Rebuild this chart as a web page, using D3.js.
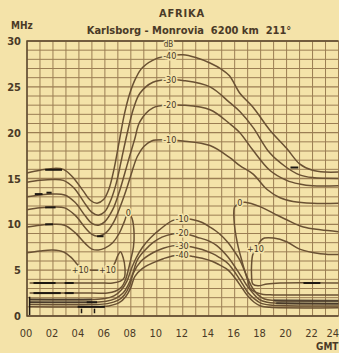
<!DOCTYPE html>
<html>
<head>
<meta charset="utf-8">
<script src="https://cdn.jsdelivr.net/npm/d3@7"></script>
<style>
  html, body { margin: 0; padding: 0; background: #f4e3a9; }
  svg { display: block; }
  text { font-family: "Liberation Sans Narrow", "DejaVu Sans Condensed", "DejaVu Sans", sans-serif; fill: #4a3a27; }
</style>
</head>
<body>
<svg id="chart" width="339" height="353"></svg>
<script>
// ---- tick labels -------------------------------------------------------
const hourTicks  = [0, 2, 4, 6, 8, 10, 12, 14, 16, 18, 20, 22, 24];
const hourLabels = ["00", "02", "04", "06", "08", "10", "12", "14", "16", "18", "20", "22", "24"];
const mhzTicks   = [0, 5, 10, 15, 20, 25, 30];

// ---- field-strength contours, [GMT hour, MHz] --------------------------
// upper contours (towards the MUF)
const upperM40 = [[0,15.6],[1,15.9],[2,16.1],[2.8,16.0],[3.5,15.2],[4.3,13.7],[4.9,12.6],[5.4,12.3],[5.9,12.7],[6.3,13.8],[6.7,16.0],[7.1,19.0],[7.5,22.0],[7.9,24.2],[8.4,26.0],[8.9,27.1],[10,28.1],[11,28.4],[12,28.5],[13,28.2],[14.1,27.6],[15,26.9],[15.6,26.2],[16.4,24.3],[17.4,22.8],[18.7,20.3],[20,18.3],[21,16.6],[22,15.9],[23,15.7],[24,15.7]];
const upperM30 = [[0,14.6],[1,14.8],[2,14.9],[2.8,14.8],[3.6,14.0],[4.4,12.4],[5.0,11.3],[5.5,11.0],[6.0,11.4],[6.5,12.8],[6.9,14.6],[7.3,17.2],[7.7,19.8],[8.2,22.6],[8.7,24.3],[9.7,25.5],[11,25.8],[12,25.7],[14.1,25.0],[15.6,23.3],[16.4,22.3],[17.4,20.6],[18.7,17.8],[20,16.2],[21,15.4],[22,15.1],[24,15.0]];
const upperM20 = [[0,13.0],[1,13.2],[2,13.3],[2.9,13.2],[3.7,12.4],[4.5,10.9],[5.0,10.1],[5.5,9.9],[6.0,10.3],[6.6,11.6],[7.1,13.5],[7.5,15.4],[7.9,17.4],[8.3,19.3],[8.7,21.2],[9.7,22.7],[11,23.0],[12,23.0],[14.1,22.5],[15.6,21.0],[16.4,20.0],[17.4,18.1],[18.7,15.9],[20,14.8],[21,14.4],[22,14.2],[24,14.2]];
const upperM10 = [[0,11.6],[1,11.8],[2,11.9],[2.9,11.8],[3.7,11.0],[4.5,9.6],[5.0,8.9],[5.5,8.7],[6.1,9.1],[6.7,10.3],[7.2,12.0],[7.7,14.0],[8.1,15.8],[8.5,17.4],[9.0,18.5],[9.6,19.1],[11,19.2],[12,19.1],[14.1,18.6],[15.6,17.3],[16.4,16.4],[17.4,15.5],[18.5,13.8],[19.5,12.9],[20.5,12.5],[22,12.3],[24,12.3]];
// 0 dB and +10 dB contours (night-time high-level region)
const zeroMorning = [[0,9.7],[1,9.9],[2,10.0],[2.9,9.9],[3.7,9.1],[4.5,7.9],[5.0,7.3],[5.5,7.2],[6.0,7.4],[6.6,8.0],[7.1,9.0],[7.5,10.3],[7.8,11.3],[8.1,10.6],[8.25,9.0],[8.2,7.5],[8.0,6.2],[7.8,5.0],[7.6,4.0],[7.3,3.2],[6.8,2.7],[6.2,2.5],[5,2.5],[0.2,2.5]];
const zeroEvening = [[24,2.3],[19,2.3],[18.2,2.35],[17.6,2.6],[17.2,3.0],[17.0,3.9],[16.6,5.8],[16.2,8.0],[15.95,10.5],[16.0,11.9],[16.4,12.3],[16.8,12.4],[18,11.9],[19,11.2],[20,10.5],[21.3,9.7],[22.6,9.4],[24,9.2]];
const plus10Morning = [[0,6.9],[1,7.1],[2,7.2],[2.8,7.0],[3.4,6.4],[3.9,5.6],[4.3,5.1],[5,5.0],[5.8,5.0],[6.3,5.0],[6.7,5.6],[7.0,6.6],[7.2,7.0],[7.4,6.4],[7.55,5.2],[7.5,4.2],[7.2,3.8],[6.6,3.6],[5.5,3.6],[0.2,3.6]];
const plus10Evening = [[24,3.6],[19.5,3.6],[18.5,3.5],[17.8,3.3],[17.4,3.5],[17.3,4.5],[17.3,5.5],[17.4,6.7],[17.7,7.4],[18.0,8.2],[18.3,8.5],[19,8.5],[20,8.1],[21,7.3],[22.6,6.8],[24,6.7]];
// lower contours (daytime absorption)
const lowerM10 = [[0.2,1.8],[5,1.8],[6,1.9],[6.7,2.2],[7.3,2.9],[7.7,3.8],[8.0,5.0],[8.4,6.3],[8.9,7.5],[9.5,8.5],[10.2,9.4],[11.2,10.4],[11.95,10.65],[12.8,10.5],[13.5,10.2],[14.1,9.7],[14.8,9.0],[15.5,8.0],[16.0,7.0],[16.4,6.1],[16.8,4.8],[17.1,3.8],[17.4,3.0],[17.8,2.3],[18.3,1.85],[19,1.7],[24,1.65]];
const lowerM20 = [[0.2,1.5],[5,1.5],[6.1,1.6],[6.8,1.9],[7.4,2.5],[7.8,3.4],[8.1,4.4],[8.5,6.1],[9.1,7.2],[9.7,8.0],[10.4,8.6],[11.2,8.95],[11.95,9.05],[13.1,8.6],[14.0,8.2],[14.6,7.7],[15.5,6.4],[16.1,5.2],[16.6,4.1],[17.0,3.2],[17.4,2.5],[17.9,1.8],[18.5,1.5],[19.2,1.4],[24,1.35]];
const lowerM30 = [[0.2,1.25],[5,1.25],[6.2,1.35],[7.0,1.7],[7.5,2.3],[7.9,3.3],[8.2,4.7],[8.8,6.0],[9.7,6.9],[10.5,7.4],[11.2,7.65],[11.95,7.7],[12.8,7.5],[13.5,7.25],[14.3,6.8],[14.8,6.4],[15.5,5.7],[16.1,4.6],[16.6,3.5],[17.0,2.6],[17.5,1.9],[18,1.4],[18.7,1.2],[24,1.1]];
const lowerM40 = [[0.2,1.0],[5,1.0],[6.3,1.1],[7.1,1.45],[7.6,2.1],[8.0,3.1],[8.3,4.3],[8.9,5.2],[9.7,5.8],[10.5,6.25],[11.2,6.55],[11.95,6.65],[12.8,6.5],[13.5,6.3],[14.3,5.95],[14.8,5.6],[15.5,5.0],[16.1,4.0],[16.6,3.0],[17.0,2.2],[17.5,1.5],[18,1.1],[18.7,0.95],[24,0.9]];

// contour labels: [text, GMT hour, MHz]
const contourLabels = [
  ["dB", 10.9, 29.6],
  ["-40", 11.0, 28.4], ["-30", 11.0, 25.8], ["-20", 11.0, 23.0], ["-10", 11.0, 19.2],
  ["-10", 11.95, 10.65], ["-20", 11.95, 9.05], ["-30", 11.95, 7.7], ["-40", 11.95, 6.65],
  ["0", 7.8, 11.3], ["0", 16.4, 12.3],
  ["+10", 4.1, 5.0], ["+10", 6.2, 5.0], ["+10", 17.6, 7.35]
];

// hand-drawn ink strokes: horizontal [from hour, to hour, MHz], vertical [hour, from MHz, to MHz]
const inkStrokes = [[1.4,2.7,15.95],[0.6,1.2,13.3],[1.5,1.9,13.45],[1.4,2.2,11.85],[1.4,2.0,10.0],[5.4,5.9,8.7],[20.3,20.9,16.2],[21.3,22.6,3.6],[0.5,2.2,3.6],[2.9,3.6,3.6],[0.5,2.6,2.5],[2.9,3.6,2.5],[3.9,6.0,1.0],[4.6,5.4,1.5]];
const inkTicks = [[0.2,0.1,2.1],[4.2,0.3,0.8],[5.2,0.3,0.8]];

// ---- drawing -----------------------------------------------------------
const paper = "#f4e3a9";
const svg = d3.select("#chart");
const x = d3.scaleLinear().domain([0, 24]).range([27, 338.5]);
const y = d3.scaleLinear().domain([0, 30]).range([316, 41]);

// grid: one line per hour and per MHz
const grid = svg.append("g").attr("stroke", "#8c6d45").attr("stroke-width", 1).attr("opacity", 0.85);
grid.selectAll("line.v").data(d3.range(0, 25)).join("line")
  .attr("x1", d => x(d)).attr("x2", d => x(d)).attr("y1", y(30)).attr("y2", y(0));
grid.selectAll("line.h").data(d3.range(0, 31)).join("line")
  .attr("x1", x(0)).attr("x2", x(24)).attr("y1", d => y(d)).attr("y2", d => y(d))
  .attr("stroke-width", d => d % 5 === 0 ? 1.3 : 1);

// frame
svg.append("path")
  .attr("d", `M${x(24)},${y(30)}H${x(0)}V${y(0)}H${x(24)}`)
  .attr("fill", "none").attr("stroke", "#5e4a30").attr("stroke-width", 1.5);

// axes
const xAxis = svg.append("g").attr("transform", `translate(-1.5,${y(0) + 10})`)
  .call(d3.axisBottom(x).tickValues(hourTicks).tickFormat((d, i) => hourLabels[i]).tickSize(0));
xAxis.select(".domain").remove();
xAxis.selectAll("text").attr("font-size", 11).attr("fill", "#4a3a27")
  .style("font-family", '"Liberation Sans Narrow", "DejaVu Sans Condensed", sans-serif');
// last hour label sits against the right edge of the page
xAxis.selectAll(".tick").filter(d => d === 24).select("text")
  .attr("text-anchor", "end").attr("dx", 1.5);

const yAxis = svg.append("g").attr("transform", `translate(${x(0) - 3},0)`)
  .call(d3.axisLeft(y).tickValues(mhzTicks).tickSize(0));
yAxis.select(".domain").remove();
yAxis.selectAll("text").attr("font-size", 11).attr("fill", "#4a3a27").attr("font-weight", "bold")
  .style("font-family", '"Liberation Sans Narrow", "DejaVu Sans Condensed", sans-serif');

// contours
const line = d3.line().x(d => x(d[0])).y(d => y(d[1])).curve(d3.curveCatmullRom.alpha(0.5));
const contours = [upperM40, upperM30, upperM20, upperM10, zeroMorning, zeroEvening, plus10Morning, plus10Evening, lowerM10, lowerM20, lowerM30, lowerM40];
svg.append("g").selectAll("path").data(contours).join("path")
  .attr("d", line).attr("fill", "none")
  .attr("stroke", "#6a5133").attr("stroke-width", 1.5).attr("stroke-linejoin", "round");

// heavy night-time bundle at the lowest frequencies
svg.append("g").selectAll("path").data([lowerM10, lowerM20])
  .join("path").attr("d", d => line(d.filter(p => p[0] < 6)) + line(d.filter(p => p[0] > 18.6)))
  .attr("fill", "none").attr("stroke", "#3c3127").attr("stroke-width", 2.2).attr("opacity", 0.7);

// ink strokes
svg.append("g").selectAll("line").data(inkStrokes).join("line")
  .attr("x1", d => x(d[0])).attr("x2", d => x(d[1])).attr("y1", d => y(d[2])).attr("y2", d => y(d[2]))
  .attr("stroke", "#1e1812").attr("stroke-width", 2);
svg.append("g").selectAll("line").data(inkTicks).join("line")
  .attr("x1", d => x(d[0])).attr("x2", d => x(d[0])).attr("y1", d => y(d[1])).attr("y2", d => y(d[2]))
  .attr("stroke", "#1e1812").attr("stroke-width", 1.5);

// contour labels
svg.append("g").selectAll("text").data(contourLabels).join("text")
  .attr("x", d => x(d[1])).attr("y", d => y(d[2])).attr("dy", "0.35em")
  .attr("text-anchor", "middle").attr("font-size", d => d[0] === "dB" ? 8 : 9)
  .attr("stroke", paper).attr("stroke-width", 3).attr("paint-order", "stroke")
  .text(d => d[0]);

// titles
svg.append("text").attr("x", 182).attr("y", 17).attr("text-anchor", "middle")
  .attr("font-size", 11).attr("font-weight", "bold").attr("letter-spacing", 0.8).text("AFRIKA");
svg.append("text").attr("x", 189).attr("y", 34).attr("text-anchor", "middle")
  .attr("font-size", 11).attr("font-weight", "bold").attr("xml:space", "preserve")
  .text("Karlsborg - Monrovia  6200 km  211°");
svg.append("text").attr("x", 11).attr("y", 29).attr("font-size", 10).attr("font-weight", "bold").text("MHz");
svg.append("text").attr("x", 316).attr("y", 350).attr("font-size", 10).attr("font-weight", "bold").text("GMT");
</script>
</body>
</html>
